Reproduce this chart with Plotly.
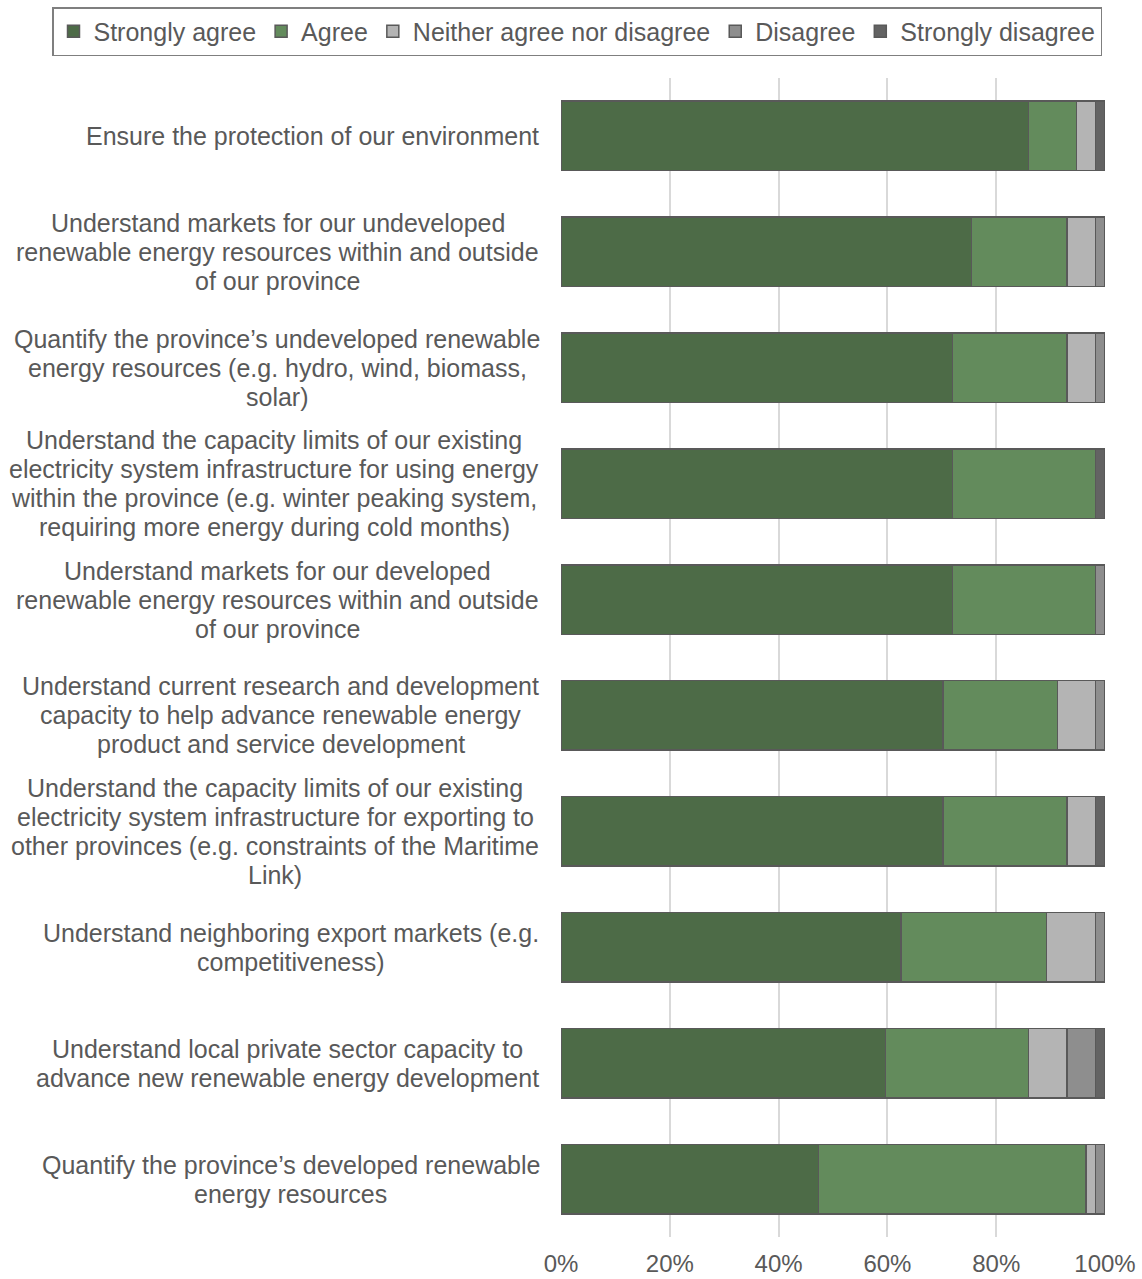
import plotly.graph_objects as go

# Survey statements (top to bottom), one entry per line of the label
categories = [
    ["Ensure the protection of our environment"],
    ["Understand markets for our undeveloped",
     "renewable energy resources within and outside",
     "of our province"],
    ["Quantify the province’s undeveloped renewable",
     "energy resources (e.g. hydro, wind, biomass,",
     "solar)"],
    ["Understand the capacity limits of our existing",
     "electricity system infrastructure for using energy",
     "within the province (e.g. winter peaking system,",
     "requiring more energy during cold months)"],
    ["Understand markets for our developed",
     "renewable energy resources within and outside",
     "of our province"],
    ["Understand current research and development",
     "capacity to help advance renewable energy",
     "product and service development"],
    ["Understand the capacity limits of our existing",
     "electricity system infrastructure for exporting to",
     "other provinces (e.g. constraints of the Maritime",
     "Link)"],
    ["Understand neighboring export markets (e.g.",
     "competitiveness)"],
    ["Understand local private sector capacity to",
     "advance new renewable energy development"],
    ["Quantify the province’s developed renewable",
     "energy resources"],
]

# Share of respondents (%)
strongly_agree = [85.96, 75.44, 71.93, 71.93, 71.93, 70.18, 70.18, 62.50, 59.65, 47.37]
agree = [8.77, 17.54, 21.05, 26.32, 26.32, 21.05, 22.81, 26.79, 26.32, 49.12]
neither = [3.51, 5.26, 5.26, 0, 0, 7.02, 5.26, 8.93, 7.02, 1.75]
disagree = [0, 1.75, 1.75, 0, 1.75, 1.75, 0, 1.79, 5.26, 1.75]
strongly_disagree = [1.75, 0, 0, 1.75, 0, 0, 1.75, 0, 1.75, 0]

series_names = ["Strongly agree", "Agree", "Neither agree nor disagree",
                "Disagree", "Strongly disagree"]
series_values = [strongly_agree, agree, neither, disagree, strongly_disagree]
series_colors = ["#4d6b47", "#638b5c", "#b4b4b4", "#8e8e8e", "#636363"]

tick_vals = [0, 20, 40, 60, 80, 100]
tick_text = ["0%", "20%", "40%", "60%", "80%", "100%"]

text_color = "#595959"
font_family = "Liberation Sans, Arial, sans-serif"
label_size = 25
line_step = 29          # px between label lines
label_gap = 22          # px between label block and plot

# Arial / Liberation Sans advance widths (1/1000 em) for centring label lines
_W = {" ": 278, "(": 333, ")": 333, ",": 278, ".": 278, "’": 222, "-": 333,
      "A": 667, "E": 667, "L": 556, "Q": 667, "U": 722, "M": 833}
_W.update({c: w for c, w in zip(
    "abcdefghijklmnopqrstuvwxyz",
    [556, 556, 500, 556, 556, 278, 556, 556, 222, 222, 500, 222, 833,
     556, 556, 556, 556, 333, 500, 278, 556, 500, 722, 500, 500, 500])})


def text_width(s, size):
    return sum(_W.get(ch, 556) for ch in s) * size / 1000.0


cat_keys = [" ".join(lines) for lines in categories]

fig = go.Figure()
for name, vals, color in zip(series_names, series_values, series_colors):
    fig.add_trace(go.Bar(
        name=name,
        y=cat_keys,
        x=vals,
        orientation="h",
        marker=dict(color=color, line=dict(color="#595959", width=1.5)),
        hoverinfo="x+name",
    ))

# Category labels: lines centred on each other, block right-aligned to the plot
for key, lines in zip(cat_keys, categories):
    block_w = max(text_width(s, label_size) for s in lines)
    n = len(lines)
    for i, s in enumerate(lines):
        fig.add_annotation(
            x=0, xref="paper", y=key, yref="y",
            text=s, showarrow=False,
            xanchor="center", yanchor="middle",
            xshift=-label_gap - block_w / 2,
            yshift=((n - 1) / 2 - i) * line_step,
            font=dict(family=font_family, size=label_size, color=text_color),
        )

plot_left, plot_right = 561, 1105
plot_top, plot_bottom = 78, 1237.5
plot_w = plot_right - plot_left
plot_h = plot_bottom - plot_top

fig.update_layout(
    barmode="stack",
    bargap=0.4,
    width=1142, height=1279,
    margin=dict(l=plot_left, r=1142 - plot_right, t=plot_top, b=1279 - plot_bottom,
                autoexpand=False),
    paper_bgcolor="white",
    plot_bgcolor="white",
    font=dict(family=font_family, size=25, color=text_color),
    showlegend=True,
    legend=dict(
        orientation="h",
        traceorder="normal",
        xref="paper", yref="paper",
        x=(52 - plot_left) / plot_w, xanchor="left",
        y=1 + (plot_top - 7) / plot_h, yanchor="top",
        bordercolor="#7f7f7f", borderwidth=1.5,
        font=dict(family=font_family, size=25, color=text_color),
        itemwidth=30,
    ),
    xaxis=dict(
        range=[0, 100],
        tickmode="array",
        tickvals=tick_vals,
        ticktext=tick_text,
        showgrid=True, gridcolor="#d9d9d9", gridwidth=1.5,
        zeroline=False,
        showline=False,
        ticks="outside", ticklen=5, tickcolor="rgba(0,0,0,0)",
        tickfont=dict(family=font_family, size=24, color=text_color),
        automargin=False,
        fixedrange=True,
    ),
    yaxis=dict(
        autorange="reversed",
        showticklabels=False,
        showgrid=False,
        zeroline=False,
        showline=False,
        automargin=False,
        fixedrange=True,
    ),
)

fig.write_html("out.html")
